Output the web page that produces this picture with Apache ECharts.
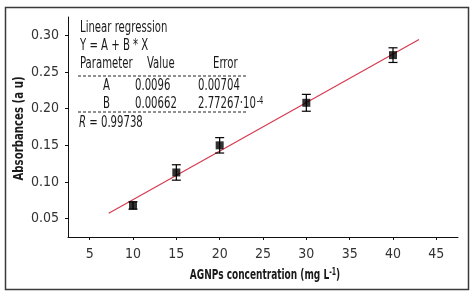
<!DOCTYPE html>
<html>
<head>
<meta charset="utf-8">
<script src="https://cdn.jsdelivr.net/npm/echarts@6/dist/echarts.min.js"></script>
<style>
  html, body { margin: 0; padding: 0; background: #fff; }
  #chart { width: 472px; height: 294px; }
</style>
</head>
<body>
<div id="chart"></div>
<script>
// measured points
const concentrations = [10, 15, 20, 30, 40];
const absorbances = [0.068, 0.113, 0.150, 0.208, 0.273];
const errors = [0.005, 0.0105, 0.0105, 0.0115, 0.010];
// fitted line end points as drawn
const fitLine = [[7.2, 0.0573], [43, 0.2943]];
const xTicks = [5, 10, 15, 20, 25, 30, 35, 40, 45];
const yTicks = [0.05, 0.10, 0.15, 0.20, 0.25, 0.30];

const FONT = '"Liberation Sans Narrow", "DejaVu Sans Condensed", "Liberation Sans", sans-serif';
const TXT = '#1a1a1a';
const SQ = 0.75; // squeeze for the narrow typeface of the original

const chart = echarts.init(document.getElementById('chart'), null, { renderer: 'canvas' });

const errData = concentrations.map((c, i) => [c, absorbances[i] - errors[i], absorbances[i] + errors[i]]);
const points = concentrations.map((c, i) => [c, absorbances[i]]);

function txt(x, y, text, rich) {
  return {
    type: 'text', x: x, y: y, scaleX: SQ, silent: true,
    style: {
      text: text, fontFamily: FONT, fontSize: 15, fill: TXT,
      verticalAlign: 'middle', rich: rich || {}
    }
  };
}

const supStyle = { fontFamily: FONT, fontSize: 10, fill: TXT, verticalAlign: 'top', padding: [0, 0, 6, 1] };

const option = {
  animation: false,
  backgroundColor: '#fff',
  grid: { left: 68, top: 17, right: 14, bottom: 57 },
  xAxis: {
    type: 'value', min: 2.5, max: 47.5,
    splitLine: { show: false },
    axisLine: { lineStyle: { color: '#111', width: 1 } },
    axisTick: { customValues: xTicks, length: 3, lineStyle: { color: '#111' } },
    axisLabel: { customValues: xTicks, margin: 10, fontFamily: FONT, fontSize: 14, color: '#333' }
  },
  yAxis: {
    type: 'value', min: 0.025, max: 0.325,
    splitLine: { show: false },
    axisLine: { show: true, lineStyle: { color: '#111', width: 1 } },
    axisTick: { show: true, customValues: yTicks, length: 3, lineStyle: { color: '#111' } },
    axisLabel: {
      customValues: yTicks, margin: 9, fontFamily: FONT, fontSize: 14, color: '#333',
      formatter: v => v.toFixed(2)
    }
  },
  series: [
    {
      type: 'line', data: fitLine, symbol: 'none',
      lineStyle: { color: '#d63a4f', width: 1.2 }, z: 2
    },
    {
      type: 'custom', data: errData, z: 3,
      renderItem: function (params, api) {
        const lo = api.coord([api.value(0), api.value(1)]);
        const hi = api.coord([api.value(0), api.value(2)]);
        const w = 4.5;
        const st = { stroke: '#000', lineWidth: 1.2 };
        return {
          type: 'group',
          children: [
            { type: 'line', shape: { x1: lo[0], y1: lo[1], x2: hi[0], y2: hi[1] }, style: st },
            { type: 'line', shape: { x1: lo[0] - w, y1: lo[1], x2: lo[0] + w, y2: lo[1] }, style: st },
            { type: 'line', shape: { x1: hi[0] - w, y1: hi[1], x2: hi[0] + w, y2: hi[1] }, style: st }
          ]
        };
      }
    },
    {
      type: 'scatter', data: points, symbol: 'rect', symbolSize: 8,
      itemStyle: { color: '#000' }, z: 4
    }
  ],
  graphic: [
    {
      type: 'rect', shape: { x: 5.5, y: 7.5, width: 463, height: 282 },
      style: { fill: 'none', stroke: '#3a3a3a', lineWidth: 1.5 }, silent: true
    },
    // axis titles
    {
      type: 'text', x: 265, y: 275.5, scaleX: 0.69, silent: true,
      style: {
        text: 'AGNPs concentration (mg L{sup|-1})', fontFamily: FONT, fontSize: 14.5, fontWeight: 'bold',
        fill: TXT, align: 'center', verticalAlign: 'middle',
        rich: { sup: { fontFamily: FONT, fontSize: 10, fontWeight: 'bold', fill: TXT, verticalAlign: 'top', padding: [0, 0, 7, 0] } }
      }
    },
    {
      type: 'text', x: 19, y: 128.5, rotation: Math.PI / 2, scaleX: 0.78, silent: true,
      style: {
        text: 'Absorbances (a u)', fontFamily: FONT, fontSize: 14.5, fontWeight: 'bold',
        fill: TXT, align: 'center', verticalAlign: 'middle'
      }
    },
    // regression box
    txt(80, 28, 'Linear regression'),
    txt(80, 46, 'Y = A + B * X'),
    txt(80, 64.5, 'Parameter'),
    txt(147, 64.5, 'Value'),
    txt(213, 64.5, 'Error'),
    { type: 'line', shape: { x1: 78, y1: 76, x2: 246, y2: 76 }, style: { stroke: '#222', lineWidth: 1, lineDash: [3, 2] }, silent: true },
    txt(103, 86, 'A'),
    txt(135, 86, '0.0096'),
    txt(198, 86, '0.00704'),
    txt(103, 104, 'B'),
    txt(135, 104, '0.00662'),
    txt(198, 104, '2.77267·10{sup|-4}', { sup: supStyle }),
    { type: 'line', shape: { x1: 78, y1: 112, x2: 246, y2: 112 }, style: { stroke: '#222', lineWidth: 1, lineDash: [3, 2] }, silent: true },
    txt(79, 123.5, '{i|R} = 0.99738', { i: { fontFamily: FONT, fontSize: 15, fontStyle: 'italic', fill: TXT } })
  ]
};

chart.setOption(option);
</script>
</body>
</html>
